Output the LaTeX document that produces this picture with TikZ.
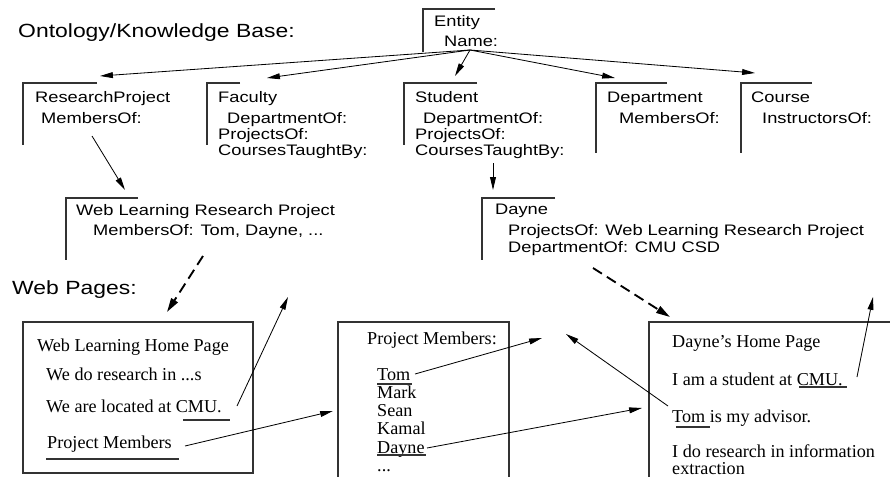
\documentclass[tikz,border=0pt]{standalone}
\usepackage{fontspec}
\setmainfont{Liberation Serif}
\newfontfamily\figsans[FakeStretch=1.2]{Liberation Sans}
\usetikzlibrary{arrows.meta}
\tikzset{
  head/.style={anchor=base west, inner sep=0pt, font=\figsans\fontsize{16.3}{19}\selectfont},
  slot/.style={anchor=base west, inner sep=0pt, font=\figsans\fontsize{13}{15}\selectfont},
  page/.style={anchor=base west, inner sep=0pt, font=\fontsize{15.5}{18}\selectfont},
  frame/.style={line width=0.9pt, black!80},
  link/.style={-{Triangle[length=11pt,width=5pt]}, line width=0.7pt},
  jump/.style={-{Triangle[length=12pt,width=6.5pt]}, line width=1.6pt, dash pattern=on 9pt off 5pt}
}

\begin{document}
\begin{tikzpicture}[x=0.03cm, y=-0.03cm]
\useasboundingbox (0,0) rectangle (890,477);

\node [head] (onto) at (18,37) {Ontology/Knowledge Base:};
\node [head] (webp) at (12,294) {Web Pages:};

% ontology frames
\draw [frame] (495,9) -- (423,9) -- (423,52);
\draw [frame] (97,83) -- (23,83) -- (23,145);
\draw [frame] (240,83) -- (207,83) -- (207,145);
\draw [frame] (477,83) -- (404,83) -- (404,145);
\draw [frame] (667,83) -- (596,83) -- (596,153);
\draw [frame] (812,83) -- (741,83) -- (741,153);
\draw [frame] (138,198) -- (66,198) -- (66,260);
\draw [frame] (555,198) -- (482,198) -- (482,260);

\node [slot] (entity) at (434,26) {Entity};
\node [slot] (entname) at (444,46) {Name:};

\node [slot] (resproj) at (35,102) {ResearchProject};
\node [slot] (rpmem) at (41,123) {MembersOf:};

\node [slot] (faculty) at (218,102) {Faculty};
\node [slot] (facdep) at (227,123) {DepartmentOf:};
\node [slot] (facproj) at (218,139) {ProjectsOf:};
\node [slot] (faccour) at (218,155) {CoursesTaughtBy:};

\node [slot] (student) at (415,102) {Student};
\node [slot] (studep) at (423,123) {DepartmentOf:};
\node [slot] (stuproj) at (415,139) {ProjectsOf:};
\node [slot] (stucour) at (415,155) {CoursesTaughtBy:};

\node [slot] (dept) at (607,102) {Department};
\node [slot] (deptmem) at (619,123) {MembersOf:};

\node [slot] (course) at (751,102) {Course};
\node [slot] (courinst) at (762,123) {InstructorsOf:};

\node [slot] (wlrp) at (76,215) {Web Learning Research Project};
\node [slot] (wlrpmem) at (93,235) {MembersOf: Tom, Dayne, ...};

\node [slot] (dayne) at (495,214) {Dayne};
\node [slot] (dayproj) at (508,235) {ProjectsOf: Web Learning Research Project};
\node [slot] (daydep) at (508,252) {DepartmentOf: CMU CSD};

% web pages
\draw [frame] (23,322) rectangle (253,473);
\draw [frame] (338,478) -- (338,322) -- (509,322) -- (509,478);
\draw [frame] (649,478) -- (649,322) -- (890,322);

\node [page] (wlhome) at (37,351) {Web Learning Home Page};
\node [page] (wlres) at (46,380) {We do research in ...s};
\node [page] (wlloc) at (46,412) {We are located at CMU.};
\node [page] (wlmem) at (47,448) {Project Members};
\draw [frame] (183,420) -- (230,420);
\draw [frame] (46,459) -- (179,459);

\node [page] (pmhead) at (367,344) {Project Members:};
\node [page] (pmtom) at (377,380) {Tom};
\node [page] (pmmark) at (377,398) {Mark};
\node [page] (pmsean) at (377,416) {Sean};
\node [page] (pmkamal) at (377,434) {Kamal};
\node [page] (pmdayne) at (377,453) {Dayne};
\node [page] (pmmore) at (377,471) {...};
\draw [frame] (377,384) -- (412,384);
\draw [frame] (377,455) -- (426,455);

\node [page] (dhhome) at (672,347) {Dayne’s Home Page};
\node [page] (dhstud) at (672,385) {I am a student at CMU.};
\node [page] (dhadv) at (672,422) {Tom is my advisor.};
\node [page, text depth=0pt] (dhres) at (672,457) {I do research in information};
\node [page, text depth=0pt] (dhext) at (672,474) {extraction};
\draw [frame] (799,387) -- (847,387);
\draw [frame] (676,427) -- (710,427);

% connectors
\coordinate (entout) at (470,50);
\coordinate (rptip) at (100,76);
\coordinate (factip) at (267,78);
\coordinate (stutip) at (455,76);
\coordinate (depttip) at (615,78);
\coordinate (courtip) at (755,73);
\draw [link] (entout) -- (rptip);
\draw [link] (entout) -- (factip);
\draw [link] (entout) -- (stutip);
\draw [link] (entout) -- (depttip);
\draw [link] (entout) -- (courtip);

\coordinate (rpout) at (92,136);
\coordinate (wlrptip) at (125,190);
\draw [link] (rpout) -- (wlrptip);
\coordinate (stuout) at (493,163);
\coordinate (daytip) at (493,190);
\draw [link] (stuout) -- (daytip);

\coordinate (wlrpout) at (203,256);
\coordinate (wlhtip) at (167,312);
\draw [jump] (wlrpout) -- (wlhtip);
\coordinate (dayout) at (593,268);
\coordinate (dhtip) at (670,317);
\draw [jump] (dayout) -- (dhtip);

\coordinate (cmuone) at (237,406);
\coordinate (cmuonetip) at (288,297);
\draw [link] (cmuone) -- (cmuonetip);
\coordinate (pmout) at (185,446);
\coordinate (pmtip) at (333,411);
\draw [link] (pmout) -- (pmtip);
\coordinate (tomout) at (415,374);
\coordinate (tomtip) at (542,338);
\draw [link] (tomout) -- (tomtip);
\coordinate (dayneout) at (427,448);
\coordinate (daynetip) at (642,408);
\draw [link] (dayneout) -- (daynetip);
\coordinate (advout) at (668,406);
\coordinate (advtip) at (566,334);
\draw [link] (advout) -- (advtip);
\coordinate (cmutwo) at (857,377);
\coordinate (cmutwotip) at (873,297);
\draw [link] (cmutwo) -- (cmutwotip);
\end{tikzpicture}
\end{document}
